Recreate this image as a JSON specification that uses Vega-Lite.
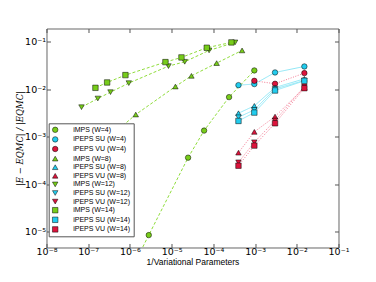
{
  "$schema": "https://vega.github.io/schema/vega-lite/v6.json",
  "width": 292,
  "height": 219,
  "autosize": "none",
  "padding": {"left": 46.5, "top": 28.5, "right": 37.3, "bottom": 34.5},
  "background": "white",
  "config": {
    "view": {"stroke": "#666666", "strokeWidth": 1},
    "font": "Liberation Sans"
  },
  "data": {
    "values": [
      {"s": "iMPS (W=4)", "x": 1.8e-6, "y": 3.8e-6},
      {"s": "iMPS (W=4)", "x": 2.83e-6, "y": 8.4e-6},
      {"s": "iMPS (W=4)", "x": 2.48e-5, "y": 3.6e-4},
      {"s": "iMPS (W=4)", "x": 6.0e-5, "y": 1.34e-3},
      {"s": "iMPS (W=4)", "x": 2.38e-4, "y": 6.8e-3},
      {"s": "iMPS (W=4)", "x": 9.6e-4, "y": 0.0248},
      {"s": "iPEPS SU (W=4)", "x": 4.0e-4, "y": 0.01216},
      {"s": "iPEPS SU (W=4)", "x": 9.6e-4, "y": 0.0128},
      {"s": "iPEPS SU (W=4)", "x": 3.01e-3, "y": 0.0225},
      {"s": "iPEPS SU (W=4)", "x": 0.0152, "y": 0.0301},
      {"s": "iPEPS VU (W=4)", "x": 9.6e-4, "y": 0.0150},
      {"s": "iPEPS VU (W=4)", "x": 3.01e-3, "y": 0.0130},
      {"s": "iPEPS VU (W=4)", "x": 0.0152, "y": 0.0218},
      {"s": "iMPS (W=8)", "x": 1.26e-7, "y": 4.8e-4},
      {"s": "iMPS (W=8)", "x": 1.38e-6, "y": 2.92e-3},
      {"s": "iMPS (W=8)", "x": 1.23e-5, "y": 0.01138},
      {"s": "iMPS (W=8)", "x": 2.98e-5, "y": 0.0191},
      {"s": "iMPS (W=8)", "x": 1.2e-4, "y": 0.0354},
      {"s": "iMPS (W=8)", "x": 4.88e-4, "y": 0.0656},
      {"s": "iPEPS SU (W=8)", "x": 4.0e-4, "y": 3.11e-3},
      {"s": "iPEPS SU (W=8)", "x": 9.6e-4, "y": 4.45e-3},
      {"s": "iPEPS SU (W=8)", "x": 3.01e-3, "y": 0.01084},
      {"s": "iPEPS SU (W=8)", "x": 0.0152, "y": 0.01652},
      {"s": "iPEPS VU (W=8)", "x": 4.0e-4, "y": 4.59e-4},
      {"s": "iPEPS VU (W=8)", "x": 9.6e-4, "y": 1.26e-3},
      {"s": "iPEPS VU (W=8)", "x": 3.01e-3, "y": 2.65e-3},
      {"s": "iPEPS VU (W=8)", "x": 0.0152, "y": 0.0108},
      {"s": "iMPS (W=12)", "x": 6.9e-8, "y": 4.17e-3},
      {"s": "iMPS (W=12)", "x": 1.7e-7, "y": 6.35e-3},
      {"s": "iMPS (W=12)", "x": 3.42e-7, "y": 8.65e-3},
      {"s": "iMPS (W=12)", "x": 9.4e-7, "y": 0.0134},
      {"s": "iMPS (W=12)", "x": 8.4e-6, "y": 0.0306},
      {"s": "iMPS (W=12)", "x": 2.06e-5, "y": 0.0378},
      {"s": "iMPS (W=12)", "x": 7.9e-5, "y": 0.0656},
      {"s": "iMPS (W=12)", "x": 3.32e-4, "y": 0.0968},
      {"s": "iPEPS SU (W=12)", "x": 4.0e-4, "y": 2.56e-3},
      {"s": "iPEPS SU (W=12)", "x": 9.6e-4, "y": 3.66e-3},
      {"s": "iPEPS SU (W=12)", "x": 3.01e-3, "y": 0.01016},
      {"s": "iPEPS SU (W=12)", "x": 0.0152, "y": 0.01524},
      {"s": "iPEPS VU (W=12)", "x": 4.0e-4, "y": 2.87e-4},
      {"s": "iPEPS VU (W=12)", "x": 9.6e-4, "y": 7.6e-4},
      {"s": "iPEPS VU (W=12)", "x": 3.01e-3, "y": 2.18e-3},
      {"s": "iPEPS VU (W=12)", "x": 0.0152, "y": 0.0114},
      {"s": "iMPS (W=14)", "x": 1.49e-7, "y": 0.01067},
      {"s": "iMPS (W=14)", "x": 2.84e-7, "y": 0.01384},
      {"s": "iMPS (W=14)", "x": 7.8e-7, "y": 0.0198},
      {"s": "iMPS (W=14)", "x": 7.1e-6, "y": 0.0372},
      {"s": "iMPS (W=14)", "x": 1.72e-5, "y": 0.0467},
      {"s": "iMPS (W=14)", "x": 6.95e-5, "y": 0.0747},
      {"s": "iMPS (W=14)", "x": 2.71e-4, "y": 0.0968},
      {"s": "iPEPS SU (W=14)", "x": 4.0e-4, "y": 2.14e-3},
      {"s": "iPEPS SU (W=14)", "x": 9.6e-4, "y": 3.21e-3},
      {"s": "iPEPS SU (W=14)", "x": 3.01e-3, "y": 9.38e-3},
      {"s": "iPEPS SU (W=14)", "x": 0.0152, "y": 0.0150},
      {"s": "iPEPS VU (W=14)", "x": 4.0e-4, "y": 2.44e-4},
      {"s": "iPEPS VU (W=14)", "x": 9.6e-4, "y": 6.46e-4},
      {"s": "iPEPS VU (W=14)", "x": 3.01e-3, "y": 1.91e-3},
      {"s": "iPEPS VU (W=14)", "x": 0.0152, "y": 0.0105}
    ]
  },
  "layer": [
    {
      "mark": {"type": "line", "strokeWidth": 1, "clip": true},
      "encoding": {
        "x": {
          "field": "x", "type": "quantitative",
          "scale": {"type": "log", "domain": [1e-8, 0.1], "nice": false},
          "axis": {
            "orient": "bottom",
            "values": [1e-8, 1e-7, 1e-6, 1e-5, 1e-4, 1e-3, 1e-2, 1e-1],
            "labelExpr": "'10' + ['⁰','⁻¹','⁻²','⁻³','⁻⁴','⁻⁵','⁻⁶','⁻⁷','⁻⁸'][round(-log(datum.value)/LN10)]",
            "domain": false, "grid": false,
            "tickSize": -4, "tickColor": "#555555",
            "labelPadding": 3, "labelFlush": false, "labelOverlap": false,
            "labelFontSize": 9.5, "labelFont": "DejaVu Sans", "labelColor": "black",
            "title": "1/Variational Parameters",
            "titleFontSize": 8.5, "titleFontWeight": "normal", "titleColor": "black", "titlePadding": 2
          }
        },
        "y": {
          "field": "y", "type": "quantitative",
          "scale": {"type": "log", "domain": [4.6e-6, 0.19], "nice": false},
          "axis": {
            "orient": "left",
            "values": [1e-5, 1e-4, 1e-3, 1e-2, 1e-1],
            "labelExpr": "'10' + ['⁰','⁻¹','⁻²','⁻³','⁻⁴','⁻⁵','⁻⁶','⁻⁷','⁻⁸'][round(-log(datum.value)/LN10)]",
            "domain": false, "grid": false,
            "tickSize": -4, "tickColor": "#555555",
            "labelPadding": 5, "labelFlush": false, "labelOverlap": false,
            "labelFontSize": 9.5, "labelFont": "DejaVu Sans", "labelColor": "black",
            "title": "|E − EQMC| / |EQMC|",
            "titleFont": "DejaVu Serif", "titleFontStyle": "italic",
            "titleFontSize": 8.5, "titleFontWeight": "normal", "titleColor": "black", "titlePadding": 0
          }
        },
        "stroke": {
          "field": "s", "type": "nominal", "legend": null,
          "scale": {
            "range": ["#8fdc3a", "#8fdc3a", "#8fdc3a", "#8fdc3a", "#8ee6f5", "#8ee6f5", "#8ee6f5", "#8ee6f5", "#f27a93", "#f27a93", "#f27a93", "#f27a93"]
          }
        },
        "strokeDash": {
          "field": "s", "type": "nominal", "legend": null,
          "scale": {
            "range": [[3, 2], [3, 2], [3, 2], [3, 2], [1, 0], [1, 0], [1, 0], [1, 0], [1, 1.5], [1, 1.5], [1, 1.5], [1, 1.5]]
          }
        }
      }
    },
    {
      "mark": {"type": "point", "filled": true, "stroke": "black", "strokeWidth": 0.5, "opacity": 1, "size": 30, "clip": true},
      "encoding": {
        "x": {
          "field": "x", "type": "quantitative",
          "axis": {
            "orient": "top",
            "values": [1e-8, 1e-7, 1e-6, 1e-5, 1e-4, 1e-3, 1e-2, 1e-1],
            "labels": false, "domain": false, "grid": false,
            "tickSize": -4, "tickColor": "#555555", "title": null
          }
        },
        "y": {
          "field": "y", "type": "quantitative",
          "axis": {
            "orient": "right",
            "values": [1e-5, 1e-4, 1e-3, 1e-2, 1e-1],
            "labels": false, "domain": false, "grid": false,
            "tickSize": -4, "tickColor": "#555555", "title": null
          }
        },
        "color": {
          "field": "s", "type": "nominal",
          "scale": {
            "domain": ["iMPS (W=4)", "iPEPS SU (W=4)", "iPEPS VU (W=4)", "iMPS (W=8)", "iPEPS SU (W=8)", "iPEPS VU (W=8)", "iMPS (W=12)", "iPEPS SU (W=12)", "iPEPS VU (W=12)", "iMPS (W=14)", "iPEPS SU (W=14)", "iPEPS VU (W=14)"],
            "range": ["#77cc1a", "#22ccee", "#dc143c", "#77cc1a", "#22ccee", "#dc143c", "#77cc1a", "#22ccee", "#dc143c", "#77cc1a", "#22ccee", "#dc143c"]
          },
          "legend": {
            "title": null,
            "orient": "none",
            "legendX": 2.2,
            "legendY": 94.8,
            "fillColor": "white",
            "strokeColor": "#555555",
            "padding": 3,
            "labelOffset": 14.5,
            "labelFontSize": 7,
            "labelFont": "Liberation Sans",
            "labelColor": "black",
            "symbolSize": 30,
            "symbolStrokeColor": "black",
            "symbolStrokeWidth": 0.5,
            "rowPadding": 0.6,
            "cornerRadius": 0
          }
        },
        "shape": {
          "field": "s", "type": "nominal",
          "scale": {
            "domain": ["iMPS (W=4)", "iPEPS SU (W=4)", "iPEPS VU (W=4)", "iMPS (W=8)", "iPEPS SU (W=8)", "iPEPS VU (W=8)", "iMPS (W=12)", "iPEPS SU (W=12)", "iPEPS VU (W=12)", "iMPS (W=14)", "iPEPS SU (W=14)", "iPEPS VU (W=14)"],
            "range": ["circle", "circle", "circle", "triangle-up", "triangle-up", "triangle-up", "triangle-down", "triangle-down", "triangle-down", "square", "square", "square"]
          },
          "legend": {"title": null}
        }
      }
    }
  ],
  "resolve": {"axis": {"x": "independent", "y": "independent"}}
}
